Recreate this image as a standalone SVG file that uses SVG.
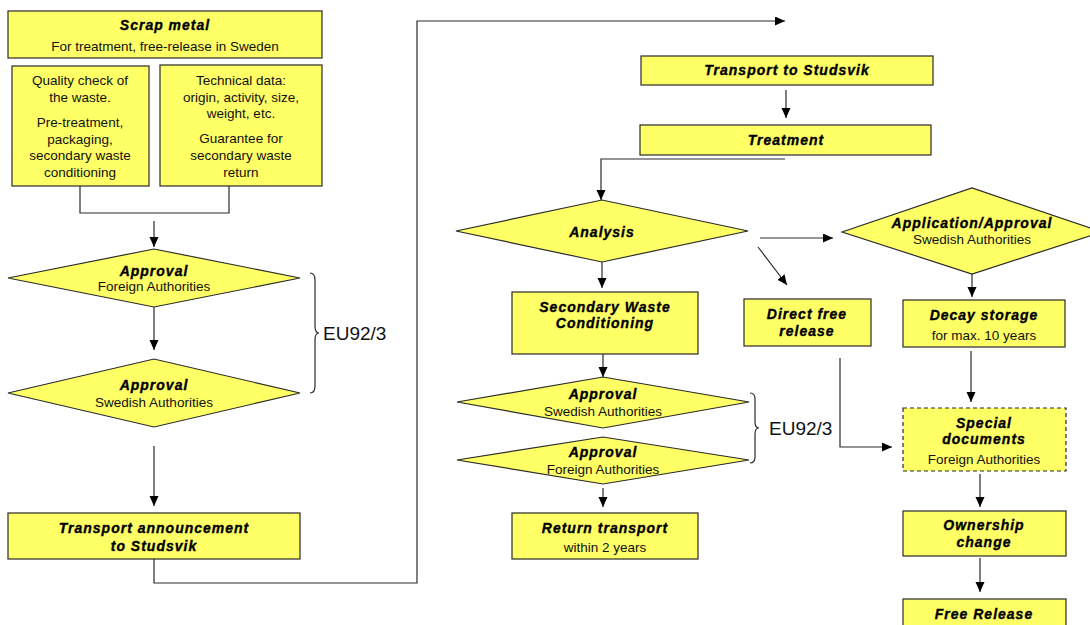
<svg xmlns="http://www.w3.org/2000/svg" width="1090" height="625" viewBox="0 0 1090 625">
<style>
.box{fill:#FFFF66;stroke:#2a2a2a;stroke-width:1.2}
.dash{stroke-dasharray:4,3}
.t{font-family:"Liberation Sans",Arial,sans-serif;font-size:13.5px;fill:#111;text-anchor:middle}
.b{font-family:"Liberation Sans",Arial,sans-serif;font-size:14px;font-weight:bold;font-style:italic;letter-spacing:1px;fill:#000;stroke:#000;stroke-width:0.35;text-anchor:middle}
.eu{font-family:"Liberation Sans",Arial,sans-serif;font-size:19px;fill:#111}
.c{fill:none;stroke:#2a2a2a;stroke-width:1.2}
.a{marker-end:url(#arr)}
</style>
<defs>
<marker id="arr" markerUnits="userSpaceOnUse" markerWidth="11" markerHeight="10" refX="10" refY="4.5" orient="auto">
<path d="M0,0 L10,4.5 L0,9 z" fill="#000"/>
</marker>
</defs>
<rect width="1090" height="625" fill="#fff"/>

<g id="connectors">
<path class="c" d="M80,186 V213 H229 V186"/>
<path class="c a" d="M154,221 V247"/>
<path class="c a" d="M154,307 V350"/>
<path class="c a" d="M154,446 V506"/>
<path class="c a" d="M154,559 V583 H417 V21 H785"/>
<path class="c a" d="M786,90 V118"/>
<path class="c a" d="M785,159 H601 V200"/>
<path class="c a" d="M602,262 V288"/>
<path class="c a" d="M603,354 V377"/>
<path class="c a" d="M603,488 V507"/>
<path class="c a" d="M760,238 H833"/>
<path class="c a" d="M758,247 L787,285"/>
<path class="c a" d="M972,274 V297"/>
<path class="c a" d="M971,351 V402"/>
<path class="c a" d="M840,358 V447 H892"/>
<path class="c a" d="M980,474 V507"/>
<path class="c a" d="M980,558 V592"/>
<path class="c" d="M310,273 Q315,273 315,280 V326 Q315,333 319,333 Q315,333 315,340 V386 Q315,393 310,393"/>
<path class="c" d="M750,393 Q755,393 755,399 V422 Q755,428 759,428 Q755,428 755,434 V457 Q755,463 750,463"/>
</g>

<g id="scrap-metal">
<rect class="box" x="8" y="11" width="314" height="47"/>
<text class="b" x="165" y="30">Scrap metal</text>
<text class="t" x="165" y="51">For treatment, free-release in Sweden</text>
</g>

<g id="quality-check">
<rect class="box" x="12" y="66" width="137" height="120"/>
<text class="t" x="80" y="85">Quality check of</text>
<text class="t" x="80" y="102">the waste.</text>
<text class="t" x="80" y="127">Pre-treatment,</text>
<text class="t" x="80" y="144">packaging,</text>
<text class="t" x="80" y="160">secondary waste</text>
<text class="t" x="80" y="177">conditioning</text>
</g>

<g id="technical-data">
<rect class="box" x="160" y="65" width="162" height="121"/>
<text class="t" x="241" y="85">Technical data:</text>
<text class="t" x="241" y="102">origin, activity, size,</text>
<text class="t" x="241" y="118">weight, etc.</text>
<text class="t" x="241" y="143">Guarantee for</text>
<text class="t" x="241" y="160">secondary waste</text>
<text class="t" x="241" y="177">return</text>
</g>

<g id="approval-foreign-1">
<polygon class="box" points="8,278 154,249 300,278 154,307"/>
<text class="b" x="154" y="276">Approval</text>
<text class="t" x="154" y="291">Foreign Authorities</text>
</g>

<g id="approval-swedish-1">
<polygon class="box" points="8,393 154,359 300,393 154,427"/>
<text class="b" x="154" y="390">Approval</text>
<text class="t" x="154" y="407">Swedish Authorities</text>
</g>

<g id="eu-left">
<text class="eu" x="323" y="340">EU92/3</text>
</g>

<g id="transport-announcement">
<rect class="box" x="8" y="513" width="292" height="46"/>
<text class="b" x="154" y="533">Transport announcement</text>
<text class="b" x="154" y="551">to Studsvik</text>
</g>

<g id="transport-to-studsvik">
<rect class="box" x="641" y="56" width="292" height="29"/>
<text class="b" x="787" y="75">Transport to Studsvik</text>
</g>

<g id="treatment">
<rect class="box" x="640" y="125" width="291" height="30"/>
<text class="b" x="786" y="145">Treatment</text>
</g>

<g id="analysis">
<polygon class="box" points="456,231 602,200 748,231 602,262"/>
<text class="b" x="602" y="237">Analysis</text>
</g>

<g id="secondary-waste">
<rect class="box" x="512" y="292" width="186" height="62"/>
<text class="b" x="605" y="312">Secondary Waste</text>
<text class="b" x="605" y="328">Conditioning</text>
</g>

<g id="approval-swedish-2">
<polygon class="box" points="457,402 603,377 749,402 603,428"/>
<text class="b" x="603" y="399">Approval</text>
<text class="t" x="603" y="416">Swedish Authorities</text>
</g>

<g id="approval-foreign-2">
<polygon class="box" points="457,460 603,437 749,460 603,484"/>
<text class="b" x="603" y="457">Approval</text>
<text class="t" x="603" y="474">Foreign Authorities</text>
</g>

<g id="eu-right">
<text class="eu" x="769" y="435">EU92/3</text>
</g>

<g id="return-transport">
<rect class="box" x="512" y="513" width="186" height="46"/>
<text class="b" x="605" y="533">Return transport</text>
<text class="t" x="605" y="552">within 2 years</text>
</g>

<g id="application-approval">
<polygon class="box" points="842,232 972,188 1102,232 972,274"/>
<text class="b" x="972" y="228">Application/Approval</text>
<text class="t" x="972" y="244">Swedish Authorities</text>
</g>

<g id="direct-free-release">
<rect class="box" x="744" y="299" width="127" height="47"/>
<text class="b" x="807" y="319">Direct free</text>
<text class="b" x="807" y="336">release</text>
</g>

<g id="decay-storage">
<rect class="box" x="903" y="300" width="162" height="47"/>
<text class="b" x="984" y="320">Decay storage</text>
<text class="t" x="984" y="340">for max. 10 years</text>
</g>

<g id="special-documents">
<rect class="box dash" x="903" y="408" width="163" height="63"/>
<text class="b" x="984" y="428">Special</text>
<text class="b" x="984" y="444">documents</text>
<text class="t" x="984" y="464">Foreign Authorities</text>
</g>

<g id="ownership-change">
<rect class="box" x="903" y="511" width="163" height="45"/>
<text class="b" x="984" y="530">Ownership</text>
<text class="b" x="984" y="547">change</text>
</g>

<g id="free-release">
<rect class="box" x="903" y="599" width="163" height="40"/>
<text class="b" x="984" y="619">Free Release</text>
</g>
</svg>
